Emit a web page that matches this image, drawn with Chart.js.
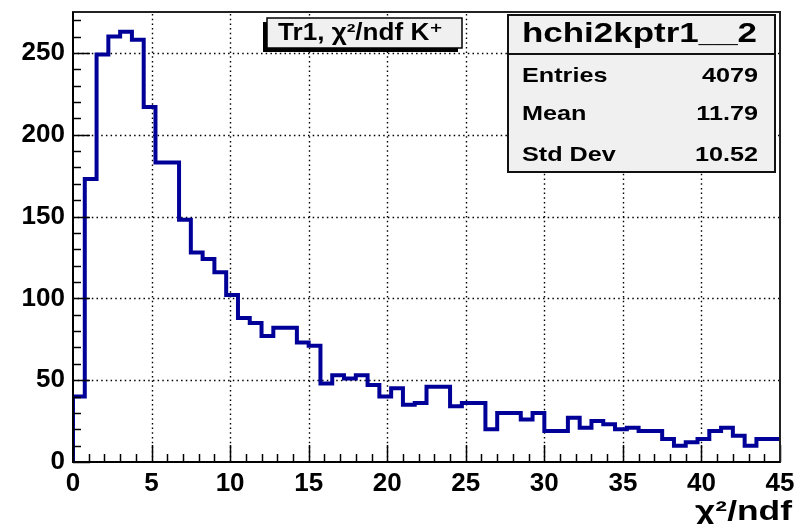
<!DOCTYPE html>
<html><head><meta charset="utf-8">
<script src="https://cdn.jsdelivr.net/npm/chart.js@4/dist/chart.umd.min.js"></script>
<style>html,body{margin:0;padding:0;background:#fff;overflow:hidden}#wrap{width:795px;height:524px}</style>
</head><body><div id="wrap"><canvas id="c" width="795" height="524"></canvas></div>
<script>
const histName = 'hchi2kptr1__2';
const histTitle = 'Tr1, \u03C7\u00B2/ndf K\u207A';
const xAxisTitle = '\u03C7\u00B2/ndf';
const xRange = [0, 45];
const yRange = [0, 275];
const counts = [40,173,249,260,263,258,217,183,183,148,128,124,116,102,88,85,77,82,82,73,
                71,48,53,51,53,47,40,45,35,36,46,46,34,36,36,20,30,30,26,30,
                19,19,27,21,25,23,20,21,19,19,14,10,12,14,19,21,16,10,14,14];
const xTickLabels = [0,5,10,15,20,25,30,35,40,45];
const yTickLabels = [0,50,100,150,200,250];
const xMinorStep = 1;
const yMinorStep = 10;
const statLabels = ['Entries','Mean','Std Dev'];
const statValues = ['4079','11.79','10.52'];

const binW = (xRange[1] - xRange[0]) / counts.length;
// step outline: each bin's value held from its left edge to its right edge
const points = [{x: xRange[0], y: 0}];
counts.forEach((c, i) => points.push({x: xRange[0] + i * binW, y: c}));
points.push({x: xRange[1], y: counts[counts.length - 1]});

const FONT = '"Liberation Sans", Arial, Helvetica, "DejaVu Sans", sans-serif';

function drawText(ctx, txt, x, y, font, align, opt) {
  ctx.save();
  ctx.font = font;
  const w = ctx.measureText(txt).width;
  let s = 1;
  if (opt && opt.width) s = opt.width / w;
  if (opt && opt.scale) s = opt.scale;
  ctx.translate(x, y); ctx.scale(s, 1);
  ctx.textAlign = align; ctx.textBaseline = 'alphabetic';
  ctx.fillStyle = '#000';
  ctx.fillText(txt, 0, 0);
  ctx.restore();
}

const rootStyle = {
  id: 'rootStyle',
  beforeDatasetsDraw(chart) {
    const {ctx, chartArea: a, scales: {x, y}} = chart;
    ctx.save();
    ctx.strokeStyle = '#000'; ctx.lineWidth = 1.4; ctx.setLineDash([1.5, 3.2]);
    xTickLabels.forEach(v => {
      if (v <= xRange[0] || v >= xRange[1]) return;
      const px = Math.round(x.getPixelForValue(v)) + 0.5;
      ctx.beginPath(); ctx.moveTo(px, a.bottom); ctx.lineTo(px, a.top); ctx.stroke();
    });
    yTickLabels.forEach(v => {
      if (v <= yRange[0] || v >= yRange[1]) return;
      const py = Math.round(y.getPixelForValue(v)) + 0.5;
      ctx.beginPath(); ctx.moveTo(a.left, py); ctx.lineTo(a.right, py); ctx.stroke();
    });
    ctx.restore();
  },
  afterDatasetsDraw(chart) {
    const {ctx, chartArea: a, scales: {x, y}} = chart;
    ctx.save();
    ctx.setLineDash([]);
    ctx.strokeStyle = '#000'; ctx.lineWidth = 1.5;
    for (let v = xRange[0]; v <= xRange[1] + 1e-9; v += xMinorStep) {
      const major = xTickLabels.includes(Math.round(v));
      const px = Math.round(x.getPixelForValue(v)) + 0.5;
      ctx.beginPath(); ctx.moveTo(px, a.bottom); ctx.lineTo(px, a.bottom - (major ? 17 : 8)); ctx.stroke();
    }
    for (let v = yRange[0]; v <= yRange[1] + 1e-9; v += yMinorStep) {
      const major = yTickLabels.includes(Math.round(v));
      const py = Math.round(y.getPixelForValue(v)) + 0.5;
      ctx.beginPath(); ctx.moveTo(a.left, py); ctx.lineTo(a.left + (major ? 17 : 8), py); ctx.stroke();
    }
    ctx.lineWidth = 2;
    ctx.strokeStyle = '#222';
    ctx.strokeRect(a.left, a.top, a.right - a.left, a.bottom - a.top);
    ctx.strokeStyle = '#000';
    ctx.beginPath(); ctx.moveTo(a.left, a.top); ctx.lineTo(a.left, a.bottom); ctx.lineTo(a.right, a.bottom); ctx.stroke();
    ctx.restore();
  },
  afterDraw(chart) {
    const {ctx} = chart;
    ctx.save();
    // title box with shadow
    ctx.fillStyle = '#000';
    ctx.fillRect(263, 22, 195, 30);
    ctx.fillStyle = '#f0f0f0';
    ctx.fillRect(267, 18, 195, 30);
    ctx.strokeStyle = '#000'; ctx.lineWidth = 1.5;
    ctx.strokeRect(267, 18, 195, 30);
    drawText(ctx, histTitle, 278, 40, 'bold 23px ' + FONT, 'left', {width: 165});
    // stats box
    ctx.fillStyle = '#f0f0f0';
    ctx.fillRect(508, 15, 267, 157);
    ctx.strokeStyle = '#111'; ctx.lineWidth = 2;
    ctx.strokeRect(508, 15, 267, 157);
    ctx.beginPath(); ctx.moveTo(508, 54); ctx.lineTo(775, 54); ctx.stroke();
    drawText(ctx, histName, 522, 42, 'bold 28px ' + FONT, 'left', {width: 235});
    const baselines = [82, 120, 161];
    statLabels.forEach((t, i) => {
      drawText(ctx, t, 522, baselines[i], 'bold 21px ' + FONT, 'left', {scale: 1.2});
      drawText(ctx, statValues[i], 758, baselines[i], 'bold 21px ' + FONT, 'right', {scale: 1.2});
    });
    // x axis title
    drawText(ctx, xAxisTitle, 792, 520, 'bold 27px ' + FONT, 'right', {width: 97});
    ctx.restore();
  }
};

new Chart(document.getElementById('c'), {
  type: 'line',
  data: {
    datasets: [{
      data: points,
      stepped: 'before',
      borderColor: '#000099',
      borderWidth: 4,
      borderJoinStyle: 'miter',
      borderCapStyle: 'butt',
      pointRadius: 0,
      fill: false,
      tension: 0
    }]
  },
  options: {
    responsive: false,
    animation: false,
    devicePixelRatio: 1,
    layout: {padding: {top: 12, right: 15, left: 0, bottom: 0}},
    plugins: {legend: {display: false}, tooltip: {enabled: false}, title: {display: false}},
    scales: {
      x: {
        type: 'linear', min: xRange[0], max: xRange[1],
        grid: {display: false, drawTicks: false},
        border: {display: false},
        afterBuildTicks(s) { s.ticks = xTickLabels.map(v => ({value: v})); },
        afterFit(s) { s.height = 62; s.paddingLeft = 0; s.paddingRight = 0; },
        ticks: {autoSkip: false, maxRotation: 0, minRotation: 0, padding: 6, color: '#000',
                font: {family: FONT, size: 26, weight: 'bold'}}
      },
      y: {
        type: 'linear', min: yRange[0], max: yRange[1],
        grid: {display: false, drawTicks: false},
        border: {display: false},
        afterBuildTicks(s) { s.ticks = yTickLabels.map(v => ({value: v})); },
        afterFit(s) { s.width = 73; s.paddingTop = 0; s.paddingBottom = 0; },
        ticks: {autoSkip: false, padding: 8, color: '#000',
                font: {family: FONT, size: 26, weight: 'bold'}}
      }
    }
  },
  plugins: [rootStyle]
});
</script>
</body></html>
